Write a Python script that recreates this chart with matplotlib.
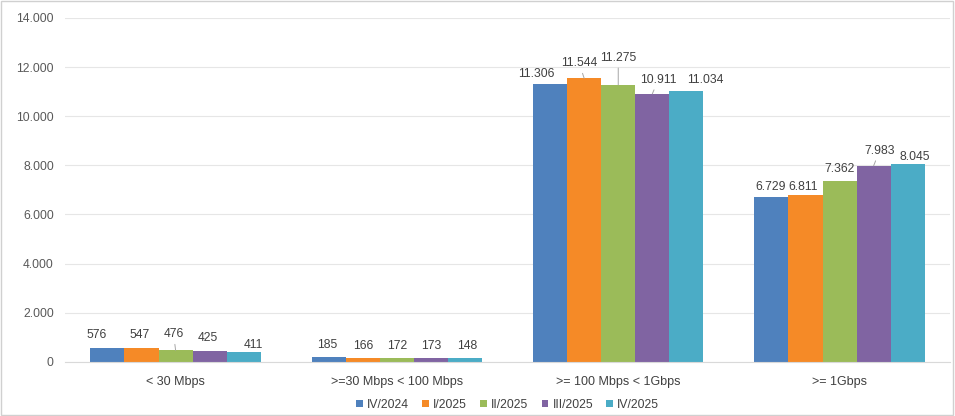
import numpy as np
import matplotlib.pyplot as plt

plt.rcParams['font.family'] = ['Liberation Sans', 'DejaVu Sans']

categories = ['< 30 Mbps', '>=30 Mbps < 100 Mbps', '>= 100 Mbps < 1Gbps', '>= 1Gbps']
series = ['IV/2024', 'I/2025', 'II/2025', 'III/2025', 'IV/2025']
values = [
    [576, 185, 11306, 6729],    # IV/2024
    [547, 166, 11544, 6811],    # I/2025
    [476, 172, 11275, 7362],    # II/2025
    [425, 173, 10911, 7983],    # III/2025
    [411, 148, 11034, 8045],    # IV/2025
]
colors = ['#4F81BD', '#F58A27', '#9BBB59', '#8064A2', '#4BACC6']

# label placement as Excel left it: (dx, dy) in pixels from bar top to label centre
label_off = [
    [(-11, 13), (-2, 12), (-14, 10), (-1, 10)],
    [(-2, 13.5), (0, 12), (-5, 15), (-2, 8)],
    [(-2, 16), (0, 12), (0, 27), (0, 12)],
    [(-2, 13.5), (0, 12), (6, 14), (6, 15)],
    [(10, 7), (2, 12), (19, 11), (7, 7)],
]
leader = {(2, 0), (1, 2), (2, 2), (3, 2), (3, 3)}

def fmt(v):
    return '{:,}'.format(int(v)).replace(',', '.')

fig = plt.figure(figsize=(9.55, 4.16), dpi=100)
ax = fig.add_axes([0.068, 0.13, 0.927, 0.827])

x = np.arange(len(categories))
w = 0.154
for i, s in enumerate(series):
    pos = x + (i - 2) * w
    ax.bar(pos, values[i], w, color=colors[i], label=s, zorder=2)
    for j, v in enumerate(values[i]):
        dx, dy = label_off[i][j]
        ap = None
        if (i, j) in leader:
            ap = dict(arrowstyle='-', color='#A6A6A6', lw=0.7, shrinkA=1, shrinkB=0)
        ax.annotate(fmt(v), (pos[j], v), xytext=(dx, dy), textcoords='offset pixels',
                    ha='center', va='center', fontsize=8.7, color='#404040',
                    arrowprops=ap)

ax.set_ylim(0, 14000)
ax.set_xlim(-0.5, 3.5)
yt = np.arange(0, 14001, 2000)
ax.set_yticks(yt)
ax.set_yticklabels([fmt(t) for t in yt], fontsize=8.7, color='#595959')
ax.set_xticks(x)
ax.set_xticklabels(categories, fontsize=9, color='#404040')
ax.tick_params(axis='y', length=0, pad=8)
ax.tick_params(axis='x', length=0, pad=10)
ax.grid(axis='y', color='#E6E6E6', lw=0.8, zorder=0)
for sp in ['top', 'right', 'left']:
    ax.spines[sp].set_visible(False)
ax.spines['bottom'].set_color('#D9D9D9')

leg = ax.legend(loc='upper center', bbox_to_anchor=(0.5, -0.075), ncol=5, frameon=False,
                fontsize=8.7, handlelength=0.55, handleheight=0.55, handletextpad=0.35,
                columnspacing=1.1)
for t in leg.get_texts():
    t.set_color('#404040')

fig.patches.append(plt.Rectangle((0.001, 0.002), 0.997, 0.995, transform=fig.transFigure,
                                 fill=False, edgecolor='#D0D0D0', lw=1))

fig.savefig('out.png', dpi=100)
